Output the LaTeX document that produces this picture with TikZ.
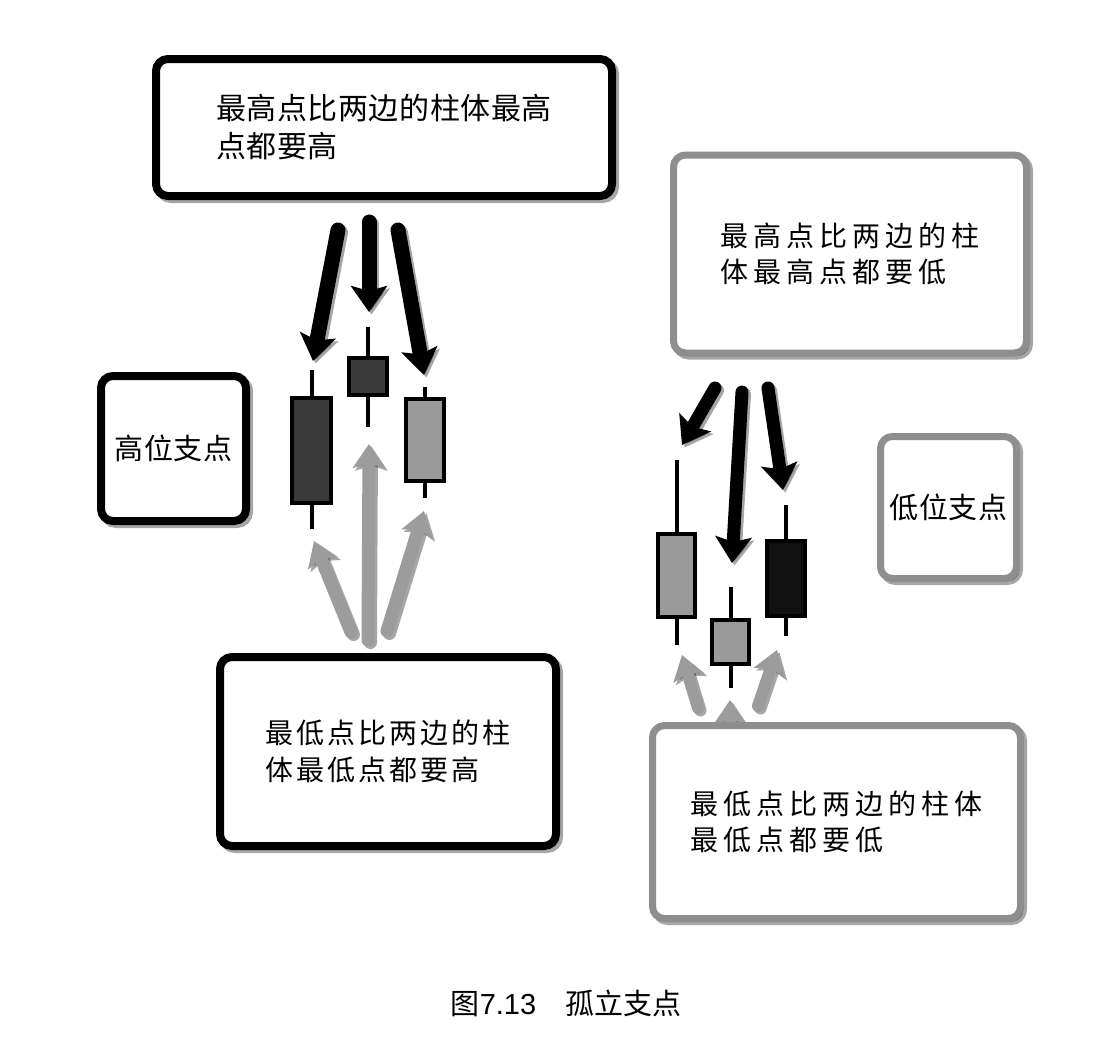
\documentclass[tikz,border=0pt]{standalone}
\usepackage{fontspec}
\setmainfont{Noto Sans CJK SC}
\newfontfamily\digitfont{Liberation Sans}
\usetikzlibrary{arrows.meta,shadows}
\definecolor{edgegray}{HTML}{8E8E8E}
\definecolor{candlegray}{HTML}{9A9A9A}
\definecolor{candledark}{HTML}{3A3A3A}
\definecolor{candleblack}{HTML}{111111}
\definecolor{arrowgray}{HTML}{9C9C9C}
\begin{document}
\begin{tikzpicture}[x=1pt,y=-1pt,
  boxbase/.style={rounded corners=12pt, fill=white, align=left, inner sep=0pt,
    drop shadow={shadow xshift=3pt, shadow yshift=-3pt, fill=black, draw=black, opacity=0.35}},
  boxblack/.style={boxbase, draw=black, line width=8pt},
  boxgray/.style={boxbase, draw=edgegray, line width=7pt},
  candle/.style={draw=black, line width=4pt, inner sep=0pt},
  wick/.style={draw=black, line width=4pt},
  blackarrow/.style={draw=black, line width=#1, line cap=round,
    -{Stealth[length=26pt,width=36pt,inset=5pt]}},
  grayarrow/.style={draw=arrowgray, line width=#1, line cap=round,
    -{Stealth[length=24pt,width=32pt,inset=5pt]}},
  ashadow/.style={draw=black, opacity=0.35, transform canvas={xshift=2.5pt,yshift=-2.5pt}},
]
\fill[white] (0,0) rectangle (1109,1045);
\useasboundingbox (0,0) rectangle (1109,1045);

% ---------- candlesticks, left ----------
\draw[wick] (311.5,370) -- (311.5,529);
\draw[wick] (368,327) -- (368,427);
\draw[wick] (425,387) -- (425,498);
\node[candle, fill=candledark, minimum width=39pt, minimum height=105pt] (c1) at (311.5,450.5) {};
\node[candle, fill=candledark, minimum width=38pt, minimum height=37pt] (c2) at (368,376.5) {};
\node[candle, fill=candlegray, minimum width=38pt, minimum height=82pt] (c3) at (425,440) {};

% ---------- candlesticks, right ----------
\draw[wick] (676.5,460) -- (676.5,645);
\draw[wick] (730.5,587) -- (730.5,688);
\draw[wick] (786,505) -- (786,636);
\node[candle, fill=candlegray, minimum width=37pt, minimum height=83pt] (r1) at (676.5,575.5) {};
\node[candle, fill=candlegray, minimum width=37pt, minimum height=44pt] (r2) at (730.5,642) {};
\node[candle, fill=candleblack, minimum width=38pt, minimum height=75pt] (r3) at (786,578.5) {};

% ---------- arrow end points ----------
\coordinate (a1s) at (338,230); \coordinate (a1t) at (313,361);
\coordinate (a2s) at (369,222); \coordinate (a2t) at (369,312);
\coordinate (a3s) at (398,230); \coordinate (a3t) at (424,375);
\coordinate (g1s) at (351,632); \coordinate (g1t) at (314,541);
\coordinate (g2s) at (368,640); \coordinate (g2t) at (369,444);
\coordinate (g3s) at (387,631); \coordinate (g3t) at (424,511);
\coordinate (b1s) at (715,388); \coordinate (b1t) at (682,445);
\coordinate (b2s) at (742,392); \coordinate (b2t) at (732,563);
\coordinate (b3s) at (768,388); \coordinate (b3t) at (783,490);
\coordinate (h1s) at (698,708); \coordinate (h1t) at (682,655);
\coordinate (h2s) at (730,745); \coordinate (h2t) at (730,700);
\coordinate (h3s) at (758,706); \coordinate (h3t) at (777,650);

% ---------- black arrows ----------
\foreach \s/\t in {a1s/a1t,a2s/a2t,a3s/a3t}{
  \draw[blackarrow=15pt, ashadow] (\s) -- (\t);
  \draw[blackarrow=15pt] (\s) -- (\t);
}
\foreach \s/\t in {b1s/b1t,b2s/b2t,b3s/b3t}{
  \draw[blackarrow=13pt, ashadow] (\s) -- (\t);
  \draw[blackarrow=13pt] (\s) -- (\t);
}
% ---------- gray arrows ----------
\foreach \s/\t in {g1s/g1t,g2s/g2t,g3s/g3t}{
  \draw[grayarrow=13pt, ashadow] (\s) -- (\t);
  \draw[grayarrow=13pt] (\s) -- (\t);
}
\foreach \s/\t in {h1s/h1t,h2s/h2t,h3s/h3t}{
  \draw[grayarrow=12pt, ashadow] (\s) -- (\t);
  \draw[grayarrow=12pt] (\s) -- (\t);
}

% ---------- boxes ----------
\node[boxblack, minimum width=456pt, minimum height=137pt,
  font=\fontsize{30}{38}\selectfont\addfontfeature{LetterSpace=2}] (topbox) at (384,127.5)
  {最高点比两边的柱体最高\\点都要高};
\node[boxgray, minimum width=353pt, minimum height=198pt,
  font=\fontsize{28}{36}\selectfont\addfontfeature{LetterSpace=18}] (rtopbox) at (850,254)
  {最高点比两边的柱\\体最高点都要低};
\node[boxblack, minimum width=145pt, minimum height=145pt,
  font=\fontsize{29}{36}\selectfont\addfontfeature{LetterSpace=3}] (highbox) at (173.5,448.5)
  {高位支点};
\node[boxgray, minimum width=136pt, minimum height=142pt,
  font=\fontsize{29}{36}\selectfont\addfontfeature{LetterSpace=3}] (lowbox) at (948.5,507.5)
  {低位支点};
\node[boxblack, minimum width=336pt, minimum height=189pt,
  font=\fontsize{28}{37}\selectfont\addfontfeature{LetterSpace=11}] (lbotbox) at (388,751.5)
  {最低点比两边的柱\\体最低点都要高};
\node[boxgray, minimum width=368pt, minimum height=193pt,
  font=\fontsize{28}{36}\selectfont\addfontfeature{LetterSpace=18}] (rbotbox) at (836.5,822)
  {最低点比两边的柱体\\最低点都要低};

% ---------- caption ----------
\node[font=\fontsize{29}{34}\selectfont, inner sep=0pt] (caption) at (566,1003) {图{\digitfont 7.13}　孤立支点};
\end{tikzpicture}
\end{document}
